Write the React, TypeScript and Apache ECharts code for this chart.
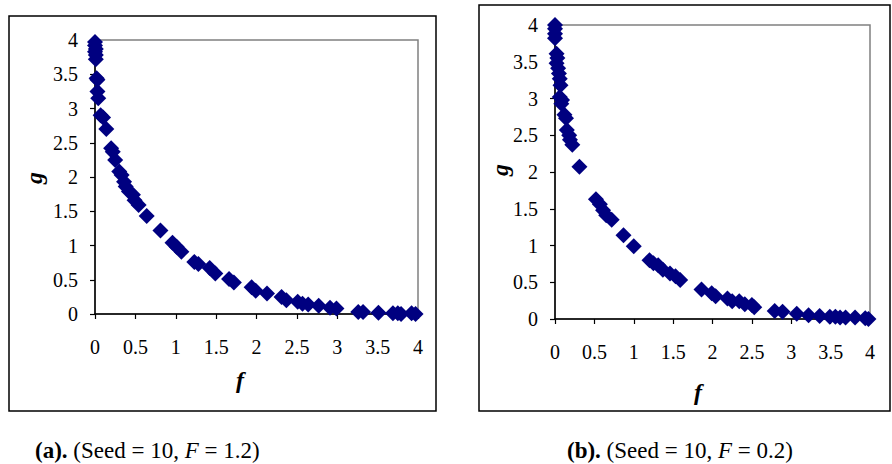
import React, { useEffect, useRef } from "react";
import * as echarts from "echarts";

// Panel (a): Seed = 10, F = 1.2
const fA = [0, 0, 0.01, 0, 0.01, 0.01, 0.02, 0.03, 0.03, 0.04, 0.07, 0.1, 0.14, 0.2, 0.22, 0.25, 0.3, 0.33, 0.36, 0.38, 0.42, 0.47, 0.49, 0.54, 0.64, 0.81, 0.96, 1.01, 1.07, 1.23, 1.28, 1.42, 1.49, 1.66, 1.72, 1.94, 1.99, 2.13, 2.31, 2.37, 2.51, 2.57, 2.64, 2.77, 2.91, 2.99, 3.26, 3.32, 3.51, 3.69, 3.75, 3.79, 3.92, 3.97];
const gA = [3.97, 3.92, 3.87, 3.83, 3.78, 3.72, 3.44, 3.42, 3.25, 3.15, 2.9, 2.87, 2.7, 2.42, 2.37, 2.25, 2.08, 2.03, 1.93, 1.86, 1.79, 1.74, 1.66, 1.59, 1.43, 1.22, 1.04, 0.98, 0.91, 0.76, 0.73, 0.67, 0.59, 0.51, 0.46, 0.39, 0.34, 0.3, 0.25, 0.2, 0.18, 0.15, 0.14, 0.12, 0.09, 0.08, 0.03, 0.03, 0.02, 0.01, 0.01, 0, 0.01, 0];

// Panel (b): Seed = 10, F = 0.2
const fB = [0, 0, 0, 0, 0.02, 0.03, 0.02, 0.04, 0.05, 0.06, 0.07, 0.06, 0.09, 0.08, 0.12, 0.14, 0.15, 0.18, 0.19, 0.22, 0.31, 0.52, 0.57, 0.61, 0.65, 0.72, 0.87, 1.0, 1.2, 1.25, 1.31, 1.37, 1.46, 1.53, 1.59, 1.86, 1.99, 2.04, 2.19, 2.25, 2.34, 2.41, 2.5, 2.53, 2.79, 2.89, 3.07, 3.22, 3.36, 3.49, 3.56, 3.62, 3.69, 3.81, 3.94, 3.98];
const gB = [4.0, 3.95, 3.88, 3.82, 3.61, 3.55, 3.48, 3.41, 3.34, 3.27, 3.18, 3.02, 2.98, 2.93, 2.78, 2.73, 2.57, 2.5, 2.44, 2.37, 2.07, 1.63, 1.56, 1.48, 1.41, 1.35, 1.14, 0.99, 0.8, 0.76, 0.73, 0.67, 0.62, 0.58, 0.53, 0.4, 0.35, 0.31, 0.28, 0.24, 0.24, 0.2, 0.19, 0.16, 0.11, 0.1, 0.07, 0.05, 0.04, 0.03, 0.03, 0.02, 0.02, 0.02, 0.01, 0];

const axisTicks = [0, 0.5, 1, 1.5, 2, 2.5, 3, 3.5, 4];

const FONT = "Liberation Serif";
const NAVY = "#000080";

export default function App() {
  const ref = useRef<HTMLDivElement>(null);
  useEffect(() => {
    document.body.style.margin = "0";
    if (!ref.current) return;
    const chart = echarts.init(ref.current, null, { renderer: "svg" });
    const mkX = (gridIndex: number) => ({
      type: "value",
      gridIndex,
      min: axisTicks[0],
      max: axisTicks[axisTicks.length - 1],
      interval: 0.5,
      axisLine: { show: true, onZero: false, lineStyle: { color: "#000", width: 1.5 } },
      axisTick: { show: true, length: 5, inside: false, lineStyle: { color: "#000", width: 1.2 } },
      axisLabel: { color: "#000", fontFamily: FONT, fontSize: 20, margin: 23 },
      splitLine: { show: false },
    });
    const mkY = (gridIndex: number) => ({
      type: "value",
      gridIndex,
      min: axisTicks[0],
      max: axisTicks[axisTicks.length - 1],
      interval: 0.5,
      axisLine: { show: true, onZero: false, lineStyle: { color: "#000", width: 1.5 } },
      axisTick: { show: true, length: 5, inside: false, lineStyle: { color: "#000", width: 1.2 } },
      axisLabel: { color: "#000", fontFamily: FONT, fontSize: 20, margin: 17 },
      splitLine: { show: false },
    });
    const caption = (left: number, letter: string, fval: string) => ({
      type: "text",
      left,
      top: 439,
      style: {
        text: `{b|(${letter}).} {n|(Seed = 10, }{i|F}{n| = ${fval})}`,
        rich: {
          b: { fontFamily: FONT, fontSize: 23, fontWeight: "bold", fill: "#000" },
          n: { fontFamily: FONT, fontSize: 23, fill: "#000" },
          i: { fontFamily: FONT, fontSize: 23, fontStyle: "italic", fill: "#000" },
        },
        fontFamily: FONT,
        fontSize: 23,
      },
    });
    const title = (x: number, y: number, t: string, rot: number) => ({
      type: "text",
      x,
      y,
      rotation: rot,
      style: { text: t, fontFamily: FONT, fontSize: 24, fontWeight: "bold", fontStyle: "italic", fill: "#000", align: "center", verticalAlign: "middle" },
    });
    chart.setOption({
      animation: false,
      textStyle: { fontFamily: FONT },
      grid: [
        { left: 95, top: 40, width: 323, height: 274, show: true, borderColor: "#808080", borderWidth: 1.5, backgroundColor: "transparent" },
        { left: 555, top: 25, width: 315, height: 294, show: true, borderColor: "#808080", borderWidth: 1.5, backgroundColor: "transparent" },
      ],
      xAxis: [mkX(0), mkX(1)],
      yAxis: [mkY(0), mkY(1)],
      series: [
        {
          type: "scatter",
          xAxisIndex: 0,
          yAxisIndex: 0,
          data: fA.map((f, i) => [f, gA[i]]),
          symbol: "diamond",
          symbolSize: [16, 16],
          itemStyle: { color: NAVY, opacity: 1 },
          clip: false,
        },
        {
          type: "scatter",
          xAxisIndex: 1,
          yAxisIndex: 1,
          data: fB.map((f, i) => [f, gB[i]]),
          symbol: "diamond",
          symbolSize: [16, 16],
          itemStyle: { color: NAVY, opacity: 1 },
          clip: false,
        },
      ],
      graphic: [
        { type: "rect", shape: { x: 9, y: 16, width: 427, height: 395 }, style: { fill: "none", stroke: "#000", lineWidth: 1.5 }, z: -10 },
        { type: "rect", shape: { x: 479, y: 5, width: 411, height: 406 }, style: { fill: "none", stroke: "#000", lineWidth: 1.5 }, z: -10 },
        title(34, 178, "g", Math.PI / 2),
        title(240, 380, "f", 0),
        title(500, 170, "g", Math.PI / 2),
        title(698, 392, "f", 0),
        caption(35, "a", "1.2"),
        caption(567, "b", "0.2"),
      ],
    });
    return () => chart.dispose();
  }, []);
  return <div ref={ref} style={{ width: 892, height: 464 }} />;
}
